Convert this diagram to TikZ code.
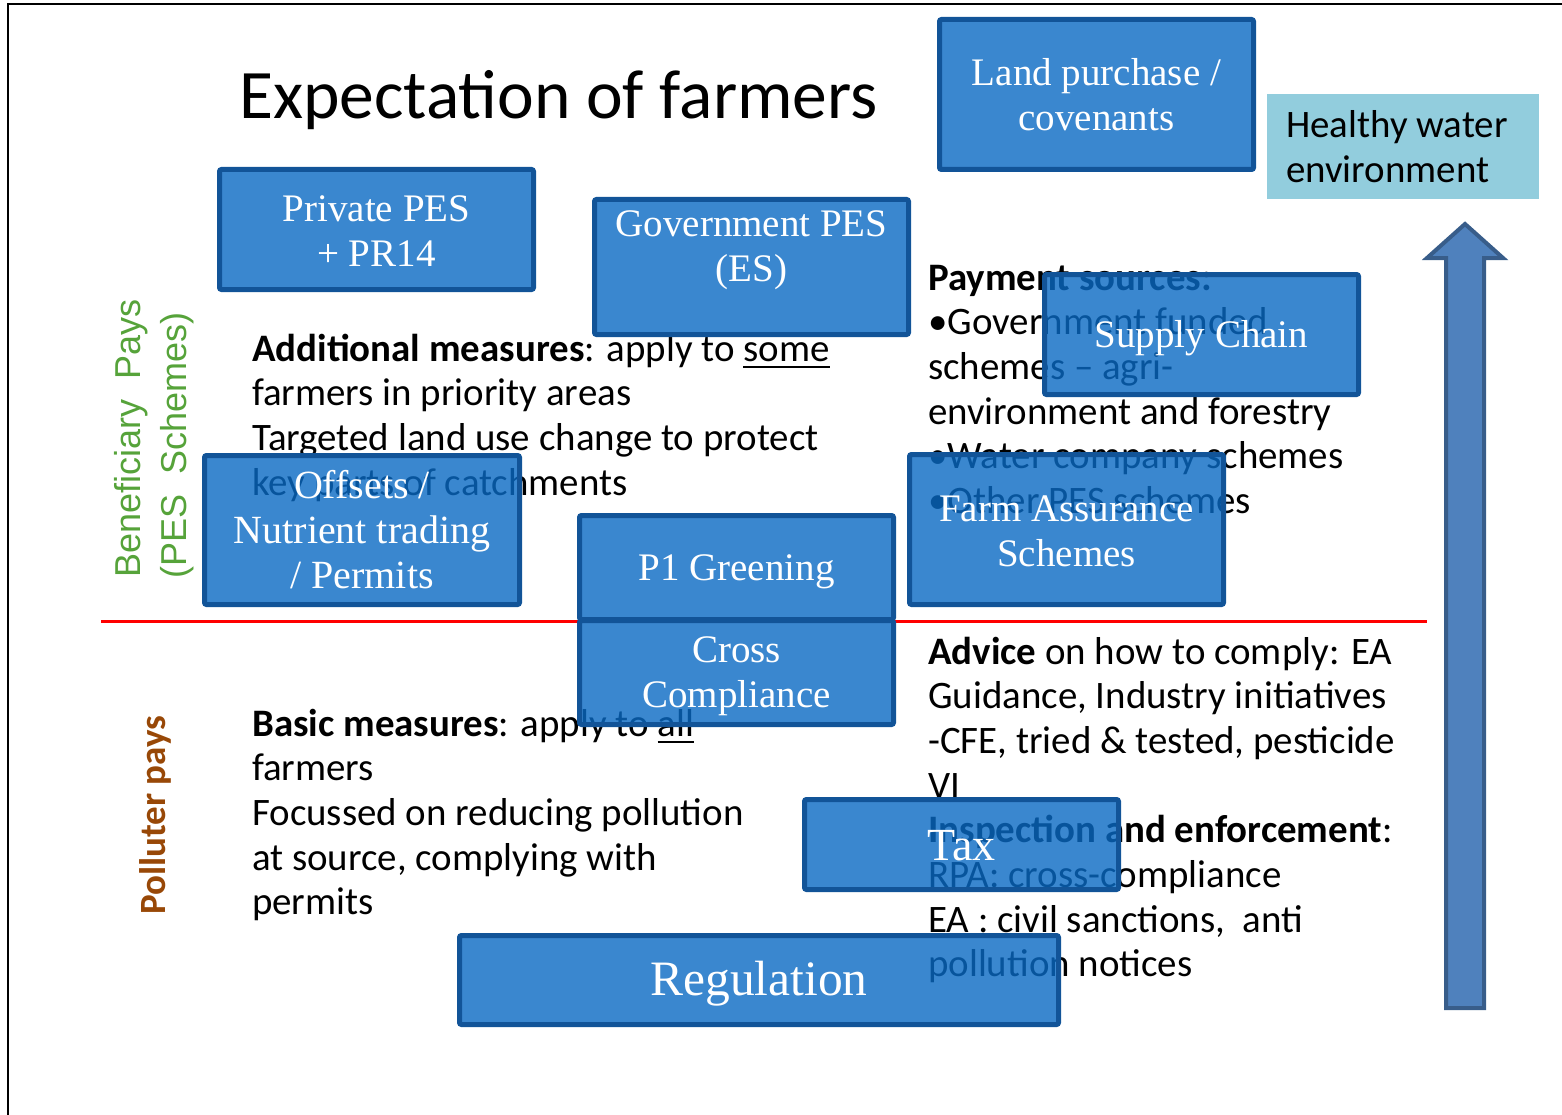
\documentclass[tikz,border=0pt]{standalone}
\usepackage{fontspec}
\setmainfont{Carlito}
\newfontfamily\boxfont{Liberation Serif}
\newfontfamily\arialfont{Liberation Sans}
\definecolor{boxfill}{RGB}{9,105,195}
\definecolor{boxedge}{RGB}{18,84,152}
\definecolor{hwfill}{RGB}{146,205,221}
\definecolor{arrfill}{RGB}{79,129,189}
\definecolor{arredge}{RGB}{56,93,138}
\definecolor{bgreen}{RGB}{86,163,58}
\definecolor{pbrown}{RGB}{152,72,7}
\newcommand\ulword[1]{\leavevmode\setbox0\hbox{#1}\rlap{\rule[-0.19em]{\wd0}{0.07em}}\box0}
\tikzset{
  bodytext/.style={inner sep=0, anchor=base west, font=\fontsize{38.9}{44.7}\selectfont},
  bluebox/.style={draw=boxedge, line width=5pt, fill=boxfill, fill opacity=0.8,
    draw opacity=1, rounded corners=2pt, inner sep=0},
  boxlabel/.style={text=white, inner sep=0, align=center, yshift=-4pt,
    font=\boxfont\fontsize{39}{45}\selectfont},
}
\begin{document}
\begin{tikzpicture}[x=1pt,y=-1pt]
\useasboundingbox (0,0) rectangle (1562,1115);
% frame
\draw[line width=1.5pt] (8,1115) -- (8,4) -- (1562,4);
% title
\node[inner sep=0, anchor=base west, font=\fontsize{69.5}{80}\selectfont] (title) at (239,119) {Expectation of farmers};
% red divider
\coordinate (redL) at (101,621);
\coordinate (redR) at (1427,621);
\draw[red, line width=3pt] (redL) -- (redR);
% side labels
\node[inner sep=0, anchor=base west, rotate=90, text=bgreen, font=\arialfont\fontsize{36}{44}\selectfont] (ben1) at (140,578) {Beneficiary~ Pays};
\node[inner sep=0, anchor=base west, rotate=90, text=bgreen, font=\arialfont\fontsize{36}{44}\selectfont] (ben2) at (186,579) {(PES~ Schemes)};
\node[inner sep=0, anchor=base west, rotate=90, text=pbrown, font=\bfseries\fontsize{37}{44}\selectfont] (poll) at (165,915) {Polluter pays};
% body text
\foreach \t [count=\i from 0] in {{\textbf{Additional measures}: apply to \ulword{some}},
  farmers in priority areas, Targeted land use change to protect, key parts of catchments}
  \node[bodytext] (lt\i) at (252,361+44.7*\i) {\t};
\foreach \t [count=\i from 0] in {{\textbf{Basic measures}: apply to \ulword{all}},
  farmers, Focussed on reducing pollution, {at source, complying with}, permits}
  \node[bodytext] (lb\i) at (252,736+44.7*\i) {\t};
\foreach \t [count=\i from 0] in {{\textbf{Payment sources:}}, {\textbullet Government funded},
  schemes – agri-, environment and forestry, {\textbullet Water company schemes}, {\textbullet Other PES schemes}}
  \node[bodytext] (rt\i) at (928,290+44.7*\i) {\t};
\foreach \t [count=\i from 0] in {{\textbf{Advice} on how to comply: EA},
  {Guidance, Industry initiatives}, {-CFE, tried \& tested, pesticide}, VI,
  {\textbf{Inspection and enforcement}:}, RPA: cross-compliance,
  {EA : civil sanctions,~ anti}, pollution notices}
  \node[bodytext] (rb\i) at (928,664+44.7*\i) {\t};
% healthy water
\node[fill=hwfill, minimum width=272pt, minimum height=105pt, inner sep=0] (hw) at (1403,146.5) {};
\node[bodytext] (hw1) at (1286,138) {Healthy water};
\node[bodytext] (hw2) at (1286,183) {environment};
% arrow
\draw[fill=arrfill, draw=arredge, line width=4pt] (1446,1008) -- (1446,258) -- (1427,258) -- (1465,224) -- (1503,258) -- (1484,258) -- (1484,1008) -- cycle;
% blue boxes
\node[bluebox, minimum width=314pt, minimum height=150pt] (land) at (1096.5,94.5) {};
\node[boxlabel, yshift=4pt] (landt) at (land.center) {Land purchase /\\covenants};
\node[bluebox, minimum width=314pt, minimum height=120pt] (priv) at (376.5,229.5) {};
\node[boxlabel, yshift=2pt] (privt) at (priv.center) {Private PES\\+ PR14};
\node[bluebox, minimum width=314pt, minimum height=135pt] (gov) at (751.5,267) {};
\node[boxlabel] (govt) at (751.5,246) {Government PES\\(ES)};
\node[bluebox, minimum width=314pt, minimum height=120pt] (supply) at (1201.5,334.5) {};
\node[boxlabel] (supplyt) at (supply.center) {Supply Chain};
\node[bluebox, minimum width=315pt, minimum height=149pt] (offs) at (362,530) {};
\node[boxlabel, yshift=4pt, font=\boxfont\fontsize{40}{45}\selectfont] (offst) at (offs.center) {Offsets /\\Nutrient trading\\/ Permits};
\node[bluebox, minimum width=314pt, minimum height=150pt] (farm) at (1066.5,529.5) {};
\node[boxlabel, yshift=2pt] (farmt) at (farm.center) {Farm Assurance\\Schemes};
\node[bluebox, minimum width=314pt, minimum height=104pt] (green) at (736.5,567.5) {};
\node[boxlabel] (greent) at (green.center) {P1 Greening};
\node[bluebox, minimum width=314pt, minimum height=104pt] (cross) at (736.5,672.5) {};
\node[boxlabel] (crosst) at (cross.center) {Cross\\Compliance};
\node[bluebox, minimum width=314pt, minimum height=90pt] (tax) at (961.5,844.5) {};
\node[boxlabel, yshift=3pt, font=\boxfont\fontsize{46}{50}\selectfont] (taxt) at (tax.center) {Tax};
\node[bluebox, minimum width=599pt, minimum height=89pt] (reg) at (759,980) {};
\node[boxlabel, font=\boxfont\fontsize{49.5}{54}\selectfont] (regt) at (reg.center) {Regulation};
\end{tikzpicture}
\end{document}
